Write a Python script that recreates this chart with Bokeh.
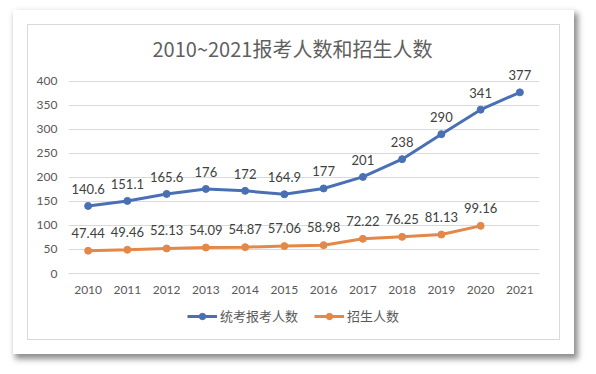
from bokeh.plotting import figure
from bokeh.layouts import column
from bokeh.models import FactorRange, Range1d, Legend, LegendItem, FixedTicker, Title
from bokeh.embed import file_html
from bokeh.resources import INLINE
from bokeh.core.properties import value

years = ["2010", "2011", "2012", "2013", "2014", "2015", "2016", "2017", "2018", "2019", "2020", "2021"]
applicants = [140.6, 151.1, 165.6, 176, 172, 164.9, 177, 201, 238, 290, 341, 377]
enrolled = [47.44, 49.46, 52.13, 54.09, 54.87, 57.06, 58.98, 72.22, 76.25, 81.13, 99.16]
y_ticks = [0, 50, 100, 150, 200, 250, 300, 350, 400]
title_text = "2010~2021报考人数和招生人数"
series_names = ["统考报考人数", "招生人数"]

BLUE = "#4a70b4"
ORANGE = "#e4884a"
LATIN = "Lato, 'Noto Sans CJK SC'"
CJK = "'Noto Sans CJK SC', Lato"

p = figure(width=561, height=290, output_backend="svg", toolbar_location=None,
           x_range=FactorRange(factors=years, range_padding=0),
           y_range=Range1d(0, 435),
           min_border_left=55, min_border_right=35, min_border_top=54, min_border_bottom=27)
p.outline_line_color = None
p.background_fill_color = "white"
p.border_fill_alpha = 0

t = Title(text=title_text, align="left", text_font=CJK, text_font_size="20px",
          text_font_style="normal", text_color="#5f5f5f", offset=84, standoff=3)
p.add_layout(t, "above")

p.xgrid.grid_line_color = None
p.ygrid.grid_line_color = "#d9d9d9"
p.ygrid.ticker = FixedTicker(ticks=y_ticks)
p.yaxis.ticker = FixedTicker(ticks=y_ticks)

p.yaxis.axis_line_color = None
p.yaxis.major_tick_line_color = None
p.yaxis.minor_tick_line_color = None
p.yaxis.major_tick_out = 0
p.yaxis.major_label_standoff = 11
p.xaxis.axis_line_color = "#d9d9d9"
p.xaxis.major_tick_line_color = None
p.xaxis.major_tick_out = 0
p.xaxis.major_label_standoff = 12
for ax in (p.xaxis[0], p.yaxis[0]):
    ax.major_label_text_font = LATIN
    ax.major_label_text_font_size = "12px"
    ax.major_label_text_color = "#595959"

p.line(years, applicants, line_color=BLUE, line_width=3)
p.scatter(years, applicants, size=7, fill_color=BLUE, line_color=BLUE)
p.line(years[:len(enrolled)], enrolled, line_color=ORANGE, line_width=3)
p.scatter(years[:len(enrolled)], enrolled, size=7, fill_color=ORANGE, line_color=ORANGE)

p.text(years, applicants, text=[f"{v:g}" for v in applicants], y_offset=-17,
       text_align="center", text_baseline="middle", text_font=value(LATIN),
       text_font_size="13px", text_color="#404040")
p.text(years[:len(enrolled)], enrolled, text=[f"{v:g}" for v in enrolled], y_offset=-18,
       text_align="center", text_baseline="middle", text_font=value(LATIN),
       text_font_size="13px", text_color="#404040")

# legend strip below the chart (legend-only renderers kept outside the visible range)
lf = figure(width=561, height=54, output_backend="svg", toolbar_location=None,
            x_axis_type=None, y_axis_type=None, min_border=0,
            x_range=Range1d(0, 1), y_range=Range1d(0, 1))
lf.outline_line_color = None
lf.border_fill_alpha = 0
lf.background_fill_alpha = 0
lf.xgrid.visible = False
lf.ygrid.visible = False
ll1 = lf.line([0, 1], [-5, -5], line_color=BLUE, line_width=3)
ls1 = lf.scatter([0.5], [-5], size=7, fill_color=BLUE, line_color=BLUE)
ll2 = lf.line([0, 1], [-5, -5], line_color=ORANGE, line_width=3)
ls2 = lf.scatter([0.5], [-5], size=7, fill_color=ORANGE, line_color=ORANGE)
legend = Legend(items=[LegendItem(label=series_names[0], renderers=[ll1, ls1]),
                       LegendItem(label=series_names[1], renderers=[ll2, ls2])],
                orientation="horizontal", location=(119, 29),
                border_line_color=None, background_fill_alpha=0,
                label_text_font=CJK, label_text_font_size="13px",
                label_text_color="#595959", glyph_width=30, glyph_height=16,
                label_height=16, spacing=16, label_standoff=3, padding=0, margin=0)
lf.add_layout(legend, "center")

card = column(p, lf, spacing=0)
card.margin = (10, 0, 0, 13)
card.styles = {"background-color": "white",
               "box-shadow": "3px 4px 6px 1px rgba(0,0,0,0.45), inset 0 0 0 14px white, inset 0 0 0 15px #d9d9d9"}

open("out.html", "w").write(file_html(card, INLINE))
